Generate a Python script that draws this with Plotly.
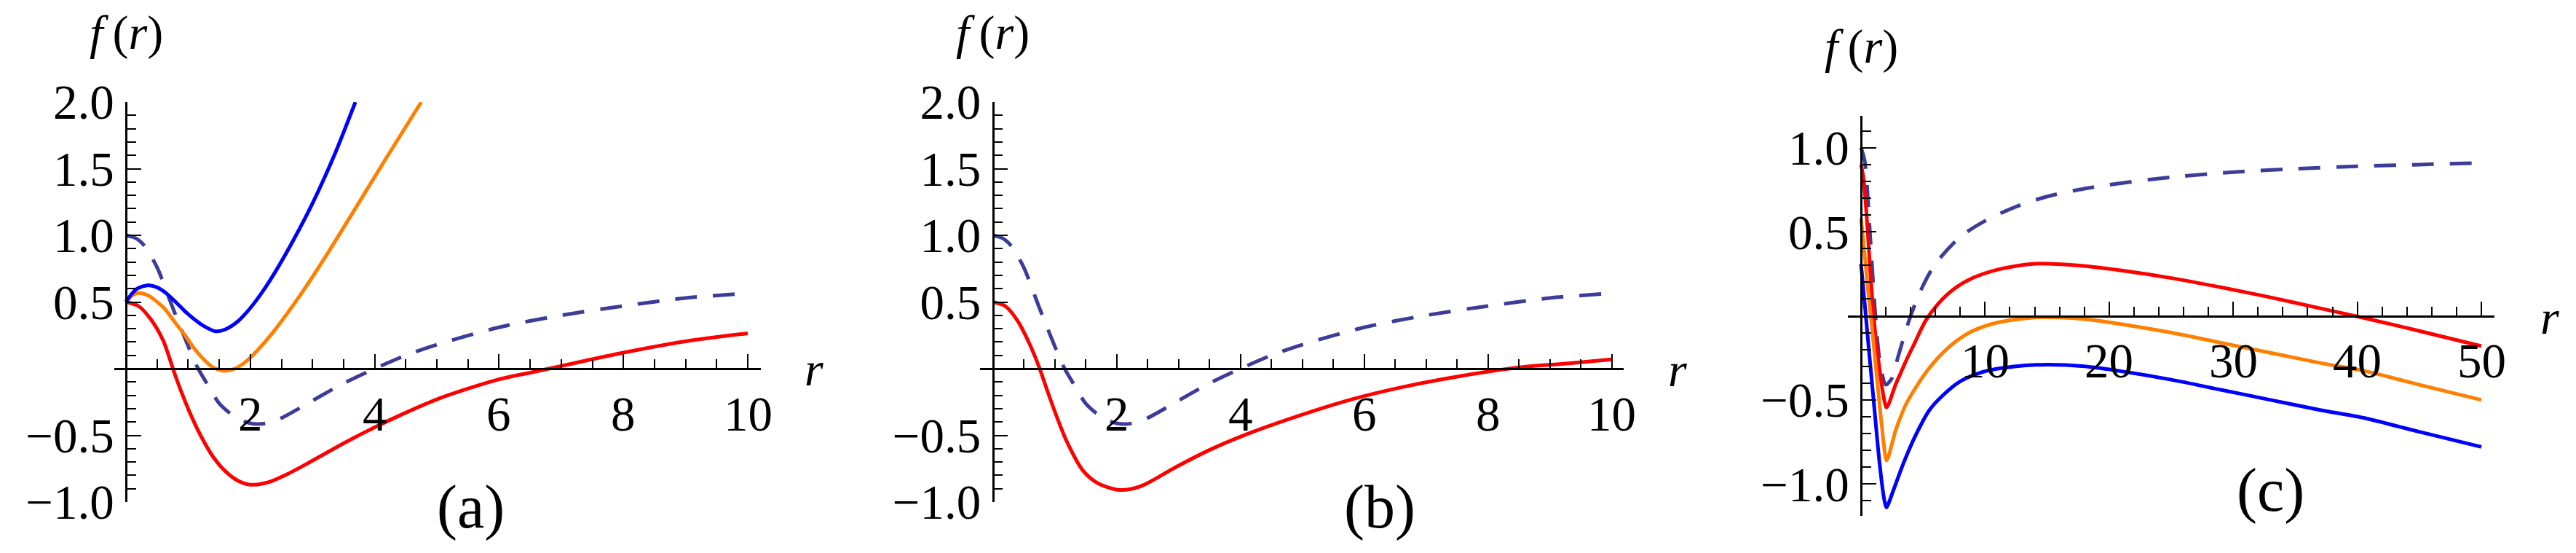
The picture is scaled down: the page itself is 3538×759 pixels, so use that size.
import numpy as np
import plotly.graph_objects as go

# ---- data ----
# reference curve (dashed), same in (a) and (b)
r_dash_ab = [0, 0.15, 0.3, 0.5, 0.75, 1.0, 1.15, 1.3, 1.5, 1.75, 2.0, 2.25, 2.5, 3.0, 3.5, 4.0, 4.5, 5.0, 6.0, 7.0, 8.0, 9.0, 10.0]
f_dash_ab = [1.0, 0.98, 0.92, 0.76, 0.46, 0.17, 0.01, -0.11, -0.26, -0.36, -0.41, -0.41, -0.37, -0.24, -0.11, 0.0, 0.10, 0.18, 0.31, 0.40, 0.47, 0.53, 0.565]

# panel (a)
r_red_a = [0, 0.2, 0.4, 0.6, 0.7, 0.8, 1.0, 1.2, 1.4, 1.6, 1.8, 2.0, 2.3, 2.6, 3.0, 3.5, 4.0, 4.5, 5.0, 5.5, 6.0, 6.5, 7.0, 8.0, 9.0, 10.0]
f_red_a = [0.5, 0.47, 0.37, 0.21, 0.08, -0.06, -0.30, -0.50, -0.66, -0.77, -0.84, -0.87, -0.85, -0.79, -0.69, -0.56, -0.44, -0.33, -0.23, -0.15, -0.08, -0.03, 0.02, 0.12, 0.205, 0.265]
r_orange_a = [0, 0.1, 0.2, 0.35, 0.6, 0.8, 0.95, 1.1, 1.25, 1.4, 1.57, 1.75, 1.92, 2.1, 2.36, 2.8, 3.25, 3.7, 4.2, 4.75]
f_orange_a = [0.5, 0.55, 0.567, 0.55, 0.46, 0.34, 0.25, 0.15, 0.07, 0.01, -0.016, 0.0, 0.05, 0.13, 0.27, 0.55, 0.87, 1.21, 1.59, 2.0]
r_blue_a = [0, 0.1, 0.2, 0.34, 0.5, 0.65, 0.8, 0.95, 1.1, 1.25, 1.44, 1.6, 1.8, 2.0, 2.2, 2.4, 2.7, 3.0, 3.35, 3.69]
f_blue_a = [0.5, 0.565, 0.605, 0.625, 0.61, 0.565, 0.50, 0.43, 0.37, 0.32, 0.28, 0.295, 0.355, 0.455, 0.58, 0.725, 0.97, 1.24, 1.60, 2.0]

# panel (b)
r_red_b = [0, 0.2, 0.4, 0.6, 0.75, 0.9, 1.05, 1.2, 1.45, 1.7, 2.05, 2.4, 2.95, 3.5, 4.0, 4.9, 5.8, 6.6, 7.5, 8.5, 9.3, 10.0]
f_red_b = [0.5, 0.47, 0.36, 0.18, 0.01, -0.19, -0.38, -0.55, -0.76, -0.86, -0.91, -0.88, -0.74, -0.61, -0.51, -0.36, -0.23, -0.14, -0.06, 0.01, 0.04, 0.07]

# panel (c)
r_dash_c = [0, 0.3, 0.75, 1.15, 1.5, 2.0, 2.5, 3.0, 4.0, 5.0, 6.0, 8.0, 10, 12.5, 15, 17.5, 20, 25, 30, 35, 40, 45, 50]
f_dash_c = [1.0, 0.92, 0.46, 0.01, -0.26, -0.41, -0.37, -0.24, 0.0, 0.18, 0.31, 0.47, 0.565, 0.65, 0.71, 0.75, 0.78, 0.825, 0.855, 0.875, 0.89, 0.90, 0.91]
r_red_c = [0, 0.2, 0.45, 0.7, 0.95, 1.2, 1.45, 1.75, 1.95, 2.05, 2.2, 2.5, 2.78, 3.2, 3.58, 4.3, 5.2, 6.2, 7.5, 9.0, 11.0, 14.0, 17.5, 21.0, 25.0, 29.0, 33.0, 37.0, 40.7, 45.0, 50.0]
f_red_c = [0.90, 0.82, 0.60, 0.32, 0.06, -0.14, -0.29, -0.45, -0.525, -0.545, -0.53, -0.47, -0.41, -0.34, -0.275, -0.165, -0.03, 0.07, 0.16, 0.225, 0.275, 0.31, 0.30, 0.27, 0.225, 0.17, 0.11, 0.045, -0.015, -0.09, -0.18]
r_orange_c = [0, 0.3, 0.57, 0.9, 1.19, 1.57, 1.8, 1.95, 2.05, 2.2, 2.5, 2.8, 3.2, 3.6, 4.3, 5.2, 6.2, 7.5, 9.0, 11.0, 14.0, 16.0, 18.0, 21.0, 25.0, 29.0, 33.0, 37.0, 40.7, 45.0, 50.0]
f_orange_c = [0.58, 0.36, 0.15, -0.08, -0.30, -0.58, -0.74, -0.83, -0.86, -0.84, -0.76, -0.68, -0.60, -0.53, -0.44, -0.34, -0.25, -0.16, -0.09, -0.04, -0.01, -0.01, -0.02, -0.05, -0.10, -0.16, -0.22, -0.28, -0.33, -0.41, -0.50]
r_blue_c = [0, 0.3, 0.72, 1.0, 1.25, 1.5, 1.8, 1.95, 2.05, 2.2, 2.6, 3.46, 4.34, 5.52, 6.5, 8.0, 10.0, 12.5, 15.0, 18.0, 21.0, 25.0, 29.0, 33.0, 37.0, 40.7, 45.0, 50.0]
f_blue_c = [0.31, 0.07, -0.27, -0.49, -0.69, -0.88, -1.06, -1.12, -1.14, -1.12, -1.04, -0.87, -0.72, -0.56, -0.48, -0.39, -0.33, -0.30, -0.29, -0.30, -0.33, -0.38, -0.44, -0.50, -0.56, -0.61, -0.69, -0.78]

# ticks
xticks_ab = [2, 4, 6, 8, 10]
yticks_ab = [-1.0, -0.5, 0.5, 1.0, 1.5, 2.0]
xticks_c = [10, 20, 30, 40, 50]
yticks_c = [-1.0, -0.5, 0.5, 1.0]

RED = "#FF0000"
ORANGE = "#FF8000"
BLUE = "#0000FF"
DASH = "#3D3D99"
FONT = "Liberation Serif, Times New Roman, serif"

W, H = 3538, 759
OFF = 8  # body margin of the html page
FW, FH = W - 2 * OFF, H - 2 * OFF


def fx(p):
    return (p - OFF) / FW


def fy(p):
    return 1 - (p - OFF) / FH


def ylab(v):
    return ("\u2212%.1f" % -v) if v < 0 else "%.1f" % v


# pixel geometry of each panel: y axis at x0px, last major tick px, x axis line ends, y axis ends
panels = [
    dict(x0px=173, xmpx=1027, xmval=10, xl=157, xr=1045, ytop=140, ybot=689, yr=[-1, 2],
         xt=xticks_ab, yt=yticks_ab, xminor=0.5),
    dict(x0px=1363.5, xmpx=2213.7, xmval=10, xl=1346, xr=2230, ytop=140, ybot=689, yr=[-1, 2],
         xt=xticks_ab, yt=yticks_ab, xminor=0.5),
    dict(x0px=2556, xmpx=3408, xmval=50, xl=2537.5, xr=3426, ytop=159, ybot=708, yr=[-1.19, 1.19],
         xt=xticks_c, yt=yticks_c, xminor=2),
]

fig = go.Figure()

traces = [
    [(r_dash_ab, f_dash_ab, DASH, True), (r_red_a, f_red_a, RED, False),
     (r_orange_a, f_orange_a, ORANGE, False), (r_blue_a, f_blue_a, BLUE, False)],
    [(r_dash_ab, f_dash_ab, DASH, True), (r_red_b, f_red_b, RED, False)],
    [(r_dash_c, f_dash_c, DASH, True), (r_red_c, f_red_c, RED, False),
     (r_orange_c, f_orange_c, ORANGE, False), (r_blue_c, f_blue_c, BLUE, False)],
]

layout = {}
ann = []
for i, p in enumerate(panels):
    sfx = "" if i == 0 else str(i + 1)
    per = (p["xmpx"] - p["x0px"]) / p["xmval"]
    xrange = [(p["xl"] - p["x0px"]) / per, (p["xr"] - p["x0px"]) / per]
    y0px = p["ytop"] + p["yr"][1] / (p["yr"][1] - p["yr"][0]) * (p["ybot"] - p["ytop"])

    for r, f, col, dashed in traces[i]:
        fig.add_trace(go.Scatter(
            x=r, y=f, mode="lines", xaxis="x" + sfx, yaxis="y" + sfx,
            line=dict(color=col, width=5, shape="spline", smoothing=0.8,
                      dash="30px,22px" if dashed else "solid"),
            showlegend=False, hoverinfo="skip"))

    common = dict(showgrid=False, zeroline=False, showline=True, linecolor="black", linewidth=2.5,
                  ticks="inside", ticklen=19, tickwidth=2.3, tickcolor="black", automargin=False,
                  tickfont=dict(family=FONT, size=67, color="black"), anchor="free")
    layout["xaxis" + sfx] = dict(
        common, domain=[fx(p["xl"]), fx(p["xr"])], range=xrange, position=fy(y0px),
        tickmode="array", tickvals=p["xt"], showticklabels=False,
        minor=dict(ticks="inside", ticklen=12, tickwidth=2.3, tickcolor="black",
                   tick0=0, dtick=p["xminor"], showgrid=False))
    layout["yaxis" + sfx] = dict(
        common, domain=[fy(p["ybot"]), fy(p["ytop"])], range=p["yr"], position=fx(p["x0px"]),
        tickmode="array", tickvals=p["yt"], ticktext=[ylab(v) for v in p["yt"]],
        ticklabelstandoff=2,
        minor=dict(ticks="inside", ticklen=12, tickwidth=2.3, tickcolor="black",
                   tick0=0, dtick=0.1, showgrid=False))

    # x tick labels sit ~62 px below the r axis line
    for v in p["xt"]:
        ann.append(dict(x=v, xref="x" + sfx, y=fy(y0px + 62), yref="paper",
                        xanchor="center", yanchor="middle", showarrow=False, text=str(v),
                        font=dict(family=FONT, size=67, color="black")))

fig.update_layout(**layout)

# axis labels and panel labels, placed in paper coordinates (pixel centres)
names = ["(a)", "(b)", "(c)"]
flab_px = [(173, 45), (1363.5, 45), (2556, 64)]
rlab_px = [(1118, 506), (2304, 507), (3502, 435)]
plab_px = [(646, 696), (1895, 696), (3118, 673)]
for i in range(3):
    ann.append(dict(x=fx(flab_px[i][0]), y=fy(flab_px[i][1]), xref="paper", yref="paper",
                    xanchor="center", yanchor="middle", showarrow=False,
                    text="<i>f</i>\u2009(<i>r</i>)", font=dict(family=FONT, size=66, color="black")))
    ann.append(dict(x=fx(rlab_px[i][0]), y=fy(rlab_px[i][1]), xref="paper", yref="paper",
                    xanchor="center", yanchor="middle", showarrow=False,
                    text="<i>r</i>", font=dict(family=FONT, size=66, color="black")))
    ann.append(dict(x=fx(plab_px[i][0]), y=fy(plab_px[i][1]), xref="paper", yref="paper",
                    xanchor="center", yanchor="middle", showarrow=False,
                    text=names[i], font=dict(family=FONT, size=84, color="black")))

fig.update_layout(
    annotations=ann,
    width=FW,
    height=FH,
    margin=dict(l=0, r=0, t=0, b=0, pad=0),
    paper_bgcolor="white",
    plot_bgcolor="white",
)

fig.write_html("out.html")
